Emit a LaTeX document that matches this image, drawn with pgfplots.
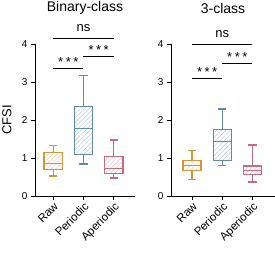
\documentclass[border=0pt]{standalone}
\usepackage{fontspec}
\setmainfont{Liberation Sans}
\usepackage{pgfplots}
\pgfplotsset{compat=1.18}
\usepgfplotslibrary{statistics}
\usetikzlibrary{patterns.meta}
\definecolor{cRaw}{RGB}{212,150,58}
\definecolor{cPer}{RGB}{96,139,163}
\definecolor{cApe}{RGB}{200,106,126}
\newcommand{\stars}{*\hspace{2.5pt}*\hspace{2.5pt}*}
\pgfplotsset{
  cfsi/.style={
    scale only axis, height=152pt, ymin=0, ymax=4, ytick={0,1,2,3,4},
    axis x line*=bottom, axis y line*=left, axis line style={-, line width=1pt},
    xtick={0,1,2}, xticklabels={Raw,Periodic,Aperiodic},
    tick align=outside, major tick length=4pt, tick style={line width=1pt, black},
    yticklabel style={font=\fontsize{10}{10}\selectfont},
    xticklabel style={rotate=45, anchor=north east, font=\fontsize{11.5}{11.5}\selectfont, inner sep=1pt},
    /pgf/number format/assume math mode=true,
    clip=false,
    title style={font=\fontsize{14}{14}\selectfont, at={(0.5,1)}, anchor=center, yshift=30pt},
    ylabel style={font=\fontsize{13}{13}\selectfont, at={(axis description cs:0,0.5)}, yshift=28pt, anchor=center},
    boxplot/draw direction=y,
    boxplot/box extend=0.6, boxplot/whisker extend=0.28,
  },
  bx/.style={#1, line width=1.3pt, boxplot/every box/.style={pattern={Lines[angle=45,distance=3.2pt,line width=0.5pt]}, pattern color=#1!45}},
  sig/.style={black, line width=1.2pt},
}
\begin{document}
\begin{tikzpicture}
\path[use as bounding box] (0pt,0pt) rectangle (275pt,252pt);
% Left panel
\begin{axis}[cfsi, at={(35pt,56pt)}, anchor=south west, width=100pt, xmin=-0.6, xmax=2.7,
  title={Binary-class}, ylabel={CFSI}]
\addplot[bx=cRaw, boxplot prepared={draw position=0, lower whisker=0.53, lower quartile=0.70, median=0.85, upper quartile=1.15, upper whisker=1.32}] coordinates {};
\addplot[bx=cPer, boxplot prepared={draw position=1, lower whisker=0.84, lower quartile=1.09, median=1.77, upper quartile=2.35, upper whisker=3.18}] coordinates {};
\addplot[bx=cApe, boxplot prepared={draw position=2, lower whisker=0.47, lower quartile=0.60, median=0.72, upper quartile=1.04, upper whisker=1.47}] coordinates {};
\addplot[sig] coordinates {(0,4.14) (2,4.14)};
\addplot[sig] coordinates {(1,3.67) (2,3.67)};
\addplot[sig] coordinates {(0,3.35) (1,3.35)};
\node[anchor=base, font=\fontsize{13}{13}\selectfont] at (axis cs:1,4.14) [yshift=7.5pt] {ns};
\node[anchor=base, font=\fontsize{13}{13}\selectfont] at (axis cs:1.5,3.67) [yshift=2.5pt] {\stars};
\node[anchor=base, font=\fontsize{13}{13}\selectfont] at (axis cs:0.5,3.35) [yshift=2.5pt] {\stars};
\end{axis}
% Right panel
\begin{axis}[cfsi, at={(171pt,56pt)}, anchor=south west, width=104pt, xmin=-0.7, xmax=2.75,
  title={3-class}]
\addplot[bx=cRaw, boxplot prepared={draw position=0, lower whisker=0.44, lower quartile=0.68, median=0.81, upper quartile=0.94, upper whisker=1.19}] coordinates {};
\addplot[bx=cPer, boxplot prepared={draw position=1, lower whisker=0.80, lower quartile=0.93, median=1.43, upper quartile=1.75, upper whisker=2.29}] coordinates {};
\addplot[bx=cApe, boxplot prepared={draw position=2, lower whisker=0.37, lower quartile=0.57, median=0.68, upper quartile=0.79, upper whisker=1.34}] coordinates {};
\addplot[sig] coordinates {(0,3.98) (2,3.98)};
\addplot[sig] coordinates {(1,3.48) (2,3.48)};
\addplot[sig] coordinates {(0,3.09) (1,3.09)};
\node[anchor=base, font=\fontsize{13}{13}\selectfont] at (axis cs:1,3.98) [yshift=7.5pt] {ns};
\node[anchor=base, font=\fontsize{13}{13}\selectfont] at (axis cs:1.5,3.48) [yshift=2.5pt] {\stars};
\node[anchor=base, font=\fontsize{13}{13}\selectfont] at (axis cs:0.5,3.09) [yshift=2.5pt] {\stars};
\end{axis}
\end{tikzpicture}
\end{document}
